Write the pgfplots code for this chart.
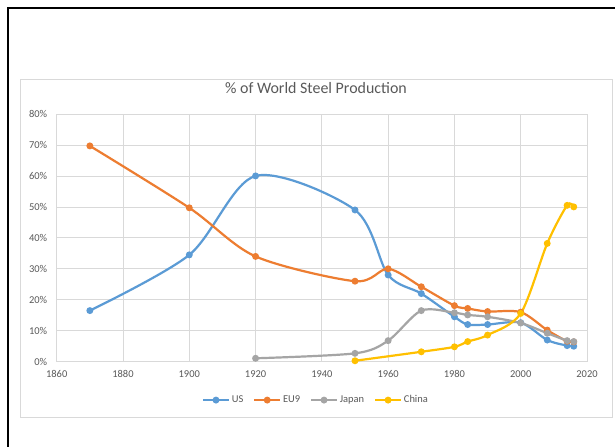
\documentclass[border=0pt]{standalone}
\usepackage{pgfplots}
\pgfplotsset{compat=1.18}
\usepackage{fontspec}
\setmainfont{Carlito}
\definecolor{usblue}{HTML}{5B9BD5}
\definecolor{euorange}{HTML}{ED7D31}
\definecolor{jpgray}{HTML}{A5A5A5}
\definecolor{cnyellow}{HTML}{FFC000}
\definecolor{txt}{HTML}{595959}
\definecolor{gridc}{HTML}{D9D9D9}
\begin{document}
\begin{tikzpicture}[x=1bp,y=1bp]
\useasboundingbox (0,0) rectangle (615,447);
\fill[white] (0,0) rectangle (615,447);
\draw[black, line width=1.5bp] (8,0) -- (8,439) -- (615,439);
\draw[gridc, line width=0.75bp] (20,30) rectangle (612,368);
\node[text=txt, font=\fontsize{16}{19}\selectfont] at (316,359) {\% of World Steel Production};
\begin{axis}[
  at={(56.7bp,85.3bp)}, anchor=south west,
  scale only axis, width=530.3bp, height=247.7bp,
  xmin=1860, xmax=2020, ymin=0, ymax=80,
  xtick={1860,1880,1900,1920,1940,1960,1980,2000,2020},
  xticklabels={1860,1880,1900,1920,1940,1960,1980,2000,2020},
  ytick={0,10,20,30,40,50,60,70,80},
  yticklabels={0\%,10\%,20\%,30\%,40\%,50\%,60\%,70\%,80\%},
  major tick length=0pt,
  grid=major,
  major grid style={gridc, line width=0.75bp},
  axis line style={gridc, line width=0.75bp},
  tick label style={text=txt, font=\fontsize{10.5}{12}\selectfont},
  yticklabel style={xshift=-6bp},
  xticklabel style={yshift=-5bp},
  legend columns=4,
  legend style={at={(0.489,-0.155)}, anchor=center, draw=none, fill=none,
    font=\fontsize{10.5}{12}\selectfont, text=txt,
    /tikz/every even column/.append style={column sep=8bp}},
  legend image code/.code={\draw[mark repeat=2,mark phase=2] plot coordinates {(0cm,0cm) (0.45cm,0cm) (0.9cm,0cm)};},
  every axis plot/.append style={line width=2.2bp, mark=*, mark size=2.3bp, smooth},
]
\addplot[usblue, mark options={fill=usblue, draw=usblue}] coordinates {
(1870,16.5) (1900,34.5) (1920,60) (1950,49) (1960,28) (1970,22) (1980,14.5) (1984,12) (1990,12) (2000,12.6) (2008,7) (2014,5.2) (2016,5)};
\addlegendentry{US}
\addplot[euorange, mark options={fill=euorange, draw=euorange}] coordinates {
(1870,69.7) (1900,49.7) (1920,34) (1950,26) (1960,30) (1970,24.2) (1980,18.1) (1984,17.2) (1990,16.2) (2000,16) (2008,10.2) (2014,6.6) (2016,6.4)};
\addlegendentry{EU9}
\addplot[jpgray, mark options={fill=jpgray, draw=jpgray}] coordinates {
(1920,1.1) (1950,2.7) (1960,6.8) (1970,16.5) (1980,15.8) (1984,15.1) (1990,14.5) (2000,12.5) (2008,9.2) (2014,6.8) (2016,6.5)};
\addlegendentry{Japan}
\addplot[cnyellow, mark options={fill=cnyellow, draw=cnyellow}] coordinates {
(1950,0.3) (1970,3.2) (1980,4.8) (1984,6.5) (1990,8.6) (2000,15.6) (2008,38.2) (2014,50.5) (2016,50)};
\addlegendentry{China}
\end{axis}
\end{tikzpicture}
\end{document}
